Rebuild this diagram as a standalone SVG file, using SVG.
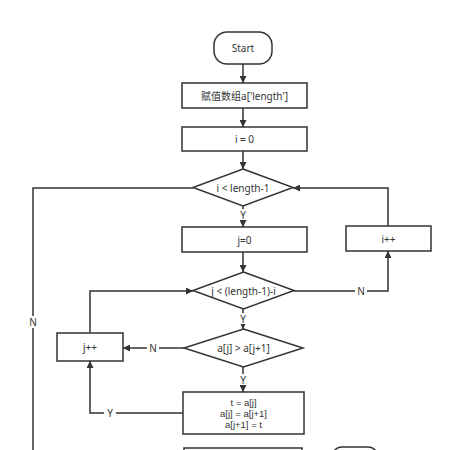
<svg xmlns="http://www.w3.org/2000/svg" width="452" height="450" viewBox="0 0 452 450">
<defs>
<marker id="ah" viewBox="0 0 10 10" refX="10" refY="5" markerWidth="7" markerHeight="7" markerUnits="userSpaceOnUse" orient="auto">
<path d="M0,0 L10,5 L0,10 Z" fill="#333"/>
</marker>
<style>
.s{fill:#fff;stroke:#333;stroke-width:1.5}
.c{fill:none;stroke:#333;stroke-width:1.5;marker-end:url(#ah)}
.l{fill:none;stroke:#333;stroke-width:1.5}
.t{font-family:"Noto Sans","DejaVu Sans","Noto Sans CJK SC",sans-serif;font-size:10px;fill:#333;text-anchor:middle;dominant-baseline:central}
.sm{font-family:"Liberation Sans",Arial,sans-serif;font-size:9.5px}
.lb{font-family:"Noto Sans","DejaVu Sans",sans-serif;font-size:10px;fill:#333;text-anchor:middle;dominant-baseline:central}
.bg{fill:#fff}
</style>
</defs>
<rect width="452" height="450" fill="#fff"/>
<g id="connectors">
<path class="c" d="M243,64 V83"/>
<path class="c" d="M243,108 V127"/>
<path class="c" d="M243,151 V169"/>
<path class="c" d="M243,206 V227"/>
<path class="c" d="M243,252 V272"/>
<path class="c" d="M243,309 V329"/>
<path class="c" d="M243,367 V392"/>
<path class="c" d="M184,348 H123"/>
<path class="c" d="M90,333 V291 H193"/>
<path class="c" d="M183,413 H90 V361"/>
<path class="c" d="M294,291 H388 V251"/>
<path class="c" d="M388,226 V188 H293"/>
<path class="l" d="M193,188 H33 V452"/>
<rect class="bg" x="237" y="209" width="12" height="11"/>
<text class="lb" x="243" y="214.5">Y</text>
<rect class="bg" x="237" y="313" width="12" height="11"/>
<text class="lb" x="243" y="318.5">Y</text>
<rect class="bg" x="237" y="374" width="12" height="11"/>
<text class="lb" x="243" y="379.5">Y</text>
<rect class="bg" x="147" y="342" width="12" height="12"/>
<text class="lb" x="153" y="348">N</text>
<rect class="bg" x="104" y="407" width="12" height="12"/>
<text class="lb" x="110" y="413">Y</text>
<rect class="bg" x="355" y="285" width="12" height="12"/>
<text class="lb" x="361" y="291">N</text>
<rect class="bg" x="27" y="316" width="12" height="12"/>
<text class="lb" x="33" y="322">N</text>
</g>
<g id="start">
<rect class="s" x="214" y="32" width="58" height="32" rx="13" ry="13"/>
<text class="t" x="243" y="48">Start</text>
</g>
<g id="assign">
<rect class="s" x="182" y="83" width="125" height="25"/>
<text class="t" x="244.5" y="95.5">赋值数组a['length']</text>
</g>
<g id="init-i">
<rect class="s" x="182" y="127" width="125" height="24"/>
<text class="t" x="244.5" y="139">i = 0</text>
</g>
<g id="cond-i">
<polygon class="s" points="243,169 293,187.5 243,206 193,187.5"/>
<text class="t" x="243" y="187.5">i &lt; length-1</text>
</g>
<g id="init-j">
<rect class="s" x="182" y="227" width="125" height="25"/>
<text class="t" x="244.5" y="239.5">j=0</text>
</g>
<g id="inc-i">
<rect class="s" x="346" y="226" width="85" height="25"/>
<text class="t" x="388.5" y="238.5">i++</text>
</g>
<g id="cond-j">
<polygon class="s" points="243.5,272 294,290.5 243.5,309 193,290.5"/>
<text class="t" x="243.5" y="290.5">j &lt; (length-1)-i</text>
</g>
<g id="cond-cmp">
<polygon class="s" points="243.5,329 303,348 243.5,367 184,348"/>
<text class="t" x="243.5" y="348">a[j] &gt; a[j+1]</text>
</g>
<g id="inc-j">
<rect class="s" x="57" y="333" width="66" height="28"/>
<text class="t" x="90" y="347">j++</text>
</g>
<g id="swap">
<rect class="s" x="183" y="392" width="121" height="42"/>
<text class="t sm" x="243.5" y="402">t = a[j]</text>
<text class="t sm" x="243.5" y="413">a[j] = a[j+1]</text>
<text class="t sm" x="243.5" y="424">a[j+1] = t</text>
</g>
<g id="next-box">
<rect class="s" x="184" y="448" width="118" height="20"/>
</g>
<g id="end">
<rect class="s" x="332" y="447" width="46" height="20" rx="10" ry="10"/>
</g>
</svg>
